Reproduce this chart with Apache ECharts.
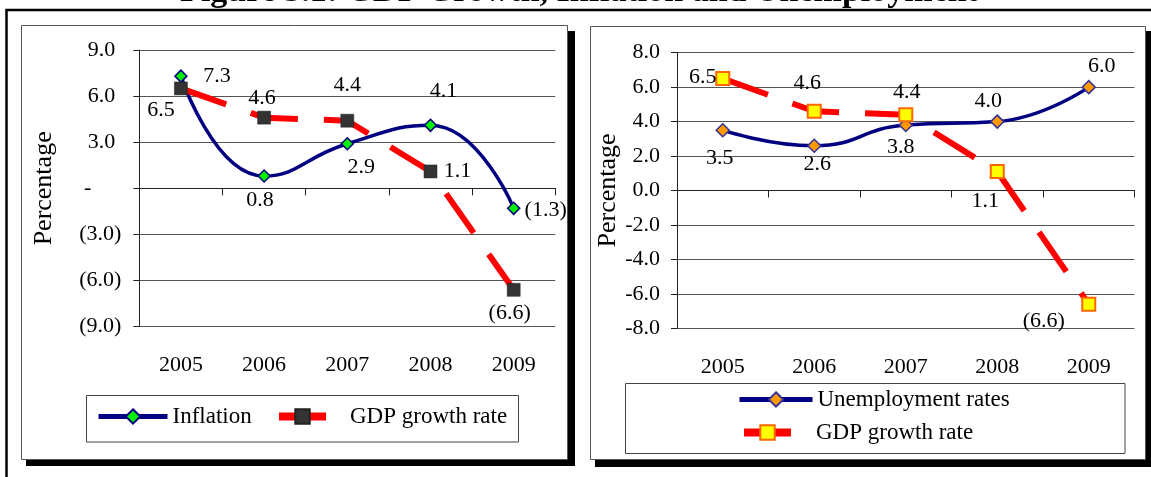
<!DOCTYPE html>
<html><head><meta charset="utf-8">
<script src="https://cdn.jsdelivr.net/npm/echarts@6/dist/echarts.min.js"></script>
<style>
html,body{margin:0;padding:0;background:#fff;}
#c{width:1151px;height:477px;position:relative;overflow:hidden;}
.layer{position:absolute;left:0;top:0;width:1151px;height:477px;}
</style></head><body>
<div id="c"><div id="bg" class="layer"></div><div id="left" class="layer"></div><div id="right" class="layer"></div></div>
<script>
// ---- data ----
const years = ['2005', '2006', '2007', '2008', '2009'];
const inflation = [7.3, 0.8, 2.9, 4.1, -1.3];
const gdpGrowth = [6.5, 4.6, 4.4, 1.1, -6.6];
const unemployment = [3.5, 2.6, 3.8, 4.0, 6.0];
const leftAxisRange = { min: -9, max: 9, interval: 3 };
const rightAxisRange = { min: -8, max: 8, interval: 2 };
const titleText = 'Figure 3.1: GDP Growth, Inflation and Unemployment';

// ---- label placement (offsets from marker centre) ----
const inflLabelOffsets = [[36, 0], [-4, 24], [14, 23], [13, -34], [32, 2]];
const gdpLeftLabelOffsets = [[-20, 22], [-2, -19], [0, -35], [27, 0], [-4, 23]];
const unempLabelOffsets = [[-3, 28], [3, 19], [-5, 22], [-9, -20], [13, -21]];
const gdpRightLabelOffsets = [[-20, -1], [-7, -28], [1, -22], [-12, 30], [-45, 17]];

const serif = 'Liberation Serif';
const fmtParen = v => v < 0 ? '(' + Math.abs(v).toFixed(1) + ')' : v.toFixed(1);
const withLabels = (vals, offs) => vals.map((v, i) => ({ value: v, label: { offset: offs[i] } }));
const baseLabel = {
  show: true, position: 'inside', color: '#000', fontFamily: serif, fontSize: 22,
  formatter: p => fmtParen(p.value)
};
const txt = (size) => ({ fontFamily: serif, fontSize: size, color: '#000' });
const gridColor = '#555';

function xAxes() {
  return [
    { type: 'category', data: years, boundaryGap: true,
      axisLine: { onZero: true, lineStyle: { color: '#222', width: 1 } },
      axisTick: { show: true, length: 7, lineStyle: { color: '#222' } },
      axisLabel: { show: false }, splitLine: { show: false } },
    { type: 'category', data: years, position: 'bottom', boundaryGap: true,
      axisLine: { show: false, onZero: false }, axisTick: { show: false },
      splitLine: { show: false },
      axisLabel: Object.assign({ margin: 28, interval: 0 }, txt(22)) }
  ];
}

function legendItem(name, left, top, width, lineWidth, textPad) {
  return {
    data: [name], left: left, top: top, itemWidth: width, itemHeight: 18, padding: 0,
    selectedMode: false,
    lineStyle: { width: lineWidth, type: 'solid' },
    textStyle: Object.assign({ padding: [0, 0, 0, textPad] }, txt(23))
  };
}

// ---- background: frame, panels, title ----
const bg = echarts.init(document.getElementById('bg'));
bg.setOption({
  animation: false,
  graphic: [
    { type: 'rect', shape: { x: 6.5, y: 10, width: 1300, height: 600 }, style: { fill: 'none', stroke: '#000', lineWidth: 2.5 } },
    { type: 'rect', shape: { x: 26, y: 31, width: 549, height: 435 }, style: { fill: '#000' } },
    { type: 'rect', shape: { x: 21.5, y: 25.5, width: 546, height: 434 }, style: { fill: '#fff', stroke: '#555', lineWidth: 1 } },
    { type: 'rect', shape: { x: 595, y: 31, width: 556, height: 436 }, style: { fill: '#000' } },
    { type: 'rect', shape: { x: 590.5, y: 26.5, width: 555, height: 433 }, style: { fill: '#fff', stroke: '#555', lineWidth: 1 } },
    { type: 'rect', shape: { x: 86.5, y: 395.5, width: 432, height: 46.5 }, style: { fill: 'none', stroke: '#444', lineWidth: 1 } },
    { type: 'rect', shape: { x: 625.5, y: 383.5, width: 499.5, height: 70 }, style: { fill: 'none', stroke: '#444', lineWidth: 1 } },
    { type: 'text', x: 579, y: 9, style: { text: titleText, fontFamily: serif, fontSize: 34, fontWeight: 'bold', fill: '#000', align: 'center', verticalAlign: 'bottom' } }
  ]
});

// ---- left chart ----
const leftChart = echarts.init(document.getElementById('left'));
leftChart.setOption({
  animation: false,
  grid: { left: 139.3, top: 50, width: 416, height: 276.7, containLabel: false },
  xAxis: xAxes(),
  yAxis: {
    type: 'value', min: leftAxisRange.min, max: leftAxisRange.max, interval: leftAxisRange.interval,
    name: 'Percentage', nameLocation: 'middle', nameGap: 82, nameTextStyle: txt(26),
    axisLine: { show: true, lineStyle: { color: '#222' } },
    axisTick: { show: true, length: 6, lineStyle: { color: '#222' } },
    splitLine: { show: true, lineStyle: { color: gridColor, width: 1 } },
    axisLabel: Object.assign({
      margin: 18,
      formatter: v => v === 0 ? '{z|-}' : (v > 0 ? '{p|' + v.toFixed(1) + '}' : '{n|' + fmtParen(v) + '}'),
      rich: {
        z: Object.assign({ padding: [0, 30, 0, 0] }, txt(22)),
        p: Object.assign({ padding: [0, 6, 0, 0] }, txt(22)),
        n: txt(22)
      }
    }, txt(22))
  },
  legend: [
    legendItem('Inflation', 96, 405, 69, 5, 0),
    legendItem('GDP growth rate', 275, 405, 47, 8, 19)
  ],
  series: [
    { name: 'Inflation', type: 'line', smooth: 0.5, data: withLabels(inflation, inflLabelOffsets),
      symbol: 'diamond', symbolSize: 12,
      itemStyle: { color: '#00ee00', borderColor: '#000080', borderWidth: 1.5 },
      lineStyle: { color: '#000080', width: 3.5 }, label: baseLabel },
    { name: 'GDP growth rate', type: 'line', data: withLabels(gdpGrowth, gdpLeftLabelOffsets),
      symbol: 'rect', symbolSize: 13,
      itemStyle: { color: '#333333', borderColor: '#222', borderWidth: 0.5 },
      lineStyle: { color: '#ff0000', width: 6, type: [48, 26] }, label: baseLabel }
  ]
});

// ---- right chart ----
const rightChart = echarts.init(document.getElementById('right'));
rightChart.setOption({
  animation: false,
  grid: { left: 677, top: 52.7, width: 457.5, height: 275.6, containLabel: false },
  xAxis: xAxes(),
  yAxis: {
    type: 'value', min: rightAxisRange.min, max: rightAxisRange.max, interval: rightAxisRange.interval,
    name: 'Percentage', nameLocation: 'middle', nameGap: 52, nameTextStyle: txt(26),
    axisLine: { show: true, lineStyle: { color: '#222' } },
    axisTick: { show: true, length: 6, lineStyle: { color: '#222' } },
    splitLine: { show: true, lineStyle: { color: gridColor, width: 1 } },
    axisLabel: Object.assign({ margin: 17, formatter: v => v.toFixed(1) }, txt(22))
  },
  legend: [
    legendItem('Unemployment rates', 737, 388, 73, 5, 0),
    legendItem('GDP growth rate', 740, 421, 47, 8, 20)
  ],
  series: [
    { name: 'Unemployment rates', type: 'line', smooth: 0.5, data: withLabels(unemployment, unempLabelOffsets),
      symbol: 'diamond', symbolSize: 13,
      itemStyle: { color: '#ff9900', borderColor: '#333399', borderWidth: 1.5 },
      lineStyle: { color: '#000080', width: 3.5 }, label: baseLabel },
    { name: 'GDP growth rate', type: 'line', data: withLabels(gdpGrowth, gdpRightLabelOffsets),
      symbol: 'rect', symbolSize: 13,
      itemStyle: { color: '#ffff00', borderColor: '#ff6600', borderWidth: 2 },
      lineStyle: { color: '#ff0000', width: 6, type: [48, 26] }, label: baseLabel }
  ]
});
</script>
</body></html>
